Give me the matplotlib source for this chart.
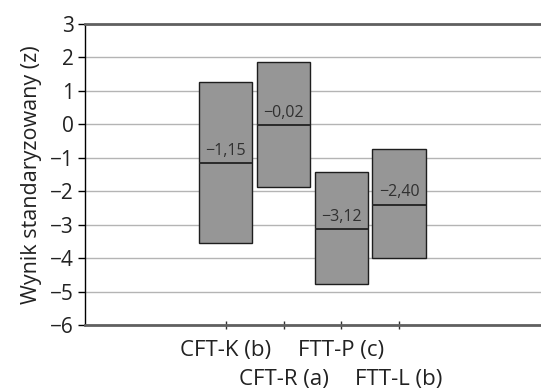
import matplotlib.pyplot as plt
import numpy as np

plt.rcParams['font.family'] = ['Open Sans', 'DejaVu Sans']

# values
groups = ['CFT-K (b)', 'CFT-R (a)', 'FTT-P (c)', 'FTT-L (b)']
means = [-1.15, -0.02, -3.12, -2.40]
upper = [1.28, 1.87, -1.44, -0.74]
lower = [-3.55, -1.88, -4.77, -4.01]
yticks = [3, 2, 1, 0, -1, -2, -3, -4, -5, -6]

fig = plt.figure(figsize=(5.41, 3.89), dpi=100)
ax = fig.add_axes([85 / 541, 1 - 325 / 389, 1 - 85 / 541, 301 / 389])

x = np.arange(len(groups))
width = 0.92
ax.bar(x, np.array(upper) - np.array(lower), bottom=lower, width=width,
       color='#969696', edgecolor='#1e1e1e', linewidth=1.0, zorder=3)
ax.hlines(means, x - width / 2, x + width / 2, color='#2a2a2a',
          linewidth=1.4, zorder=4)
for xi, m in zip(x, means):
    txt = '{:.2f}'.format(m).replace('.', ',').replace('-', '\u2212')
    ax.annotate(txt, (xi, m), xytext=(0, 3), textcoords='offset points',
                ha='center', va='bottom', fontsize=11.5, color='#303030',
                zorder=5)

ax.set_ylim(-6, 3)
ax.set_yticks(yticks)
ax.set_yticklabels([str(t).replace('-', '\u2212') for t in yticks])
ax.set_xlim(-2.44, 5.46)
ax.set_xticks(x)
ax.set_xticklabels(groups)

ax.yaxis.grid(True, color='#b4b4b4', linewidth=1.0, zorder=0)
ax.set_axisbelow(True)
ax.tick_params(axis='y', labelsize=15, length=5, width=1, color='#000000',
               pad=3, labelcolor='#222222')
ax.tick_params(axis='x', labelsize=16, length=6, width=1, color='#303030',
               direction='inout', pad=8, labelcolor='#222222')
# staggered labels: every second one drops to a second row
for i, tick in enumerate(ax.xaxis.get_major_ticks()):
    if i % 2 == 1:
        tick.set_pad(29)

ax.spines['right'].set_visible(False)
ax.spines['left'].set_color('#000000')
ax.spines['left'].set_linewidth(1.0)
for s in ('top', 'bottom'):
    ax.spines[s].set_color('#606060')
    ax.spines[s].set_linewidth(2.0)

ax.set_ylabel('Wynik standaryzowany (z)', fontsize=15.5, color='#222222',
              labelpad=6)

fig.savefig('out.png', dpi=100)
